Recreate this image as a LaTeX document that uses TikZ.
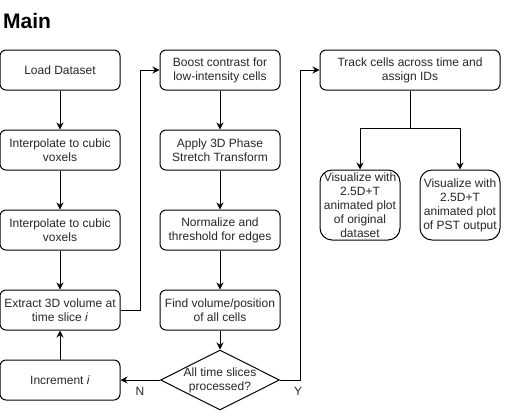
\documentclass[tikz,border=0pt]{standalone}
\usepackage{fontspec}
\setmainfont{Liberation Sans}
\usetikzlibrary{shapes.geometric,arrows.meta}
\begin{document}
\begin{tikzpicture}[x=1pt,y=-1pt,
 txt/.style={font=\fontsize{12}{14}\selectfont, text=black!85},
 box/.style={draw, line width=1pt, rounded corners=6pt, minimum width=120pt, minimum height=40pt, align=center, inner sep=0pt, txt},
 vbox/.style={box, rounded corners=12pt, minimum width=80pt, minimum height=70pt},
 arr/.style={-{Stealth[length=7pt,width=7pt]}, line width=1pt},
 ln/.style={line width=1pt}]
\useasboundingbox (0,0) rectangle (513,418);
\node[anchor=base west, font=\bfseries\fontsize{21}{24}\selectfont, inner sep=0pt] (title) at (3,28) {Main};
% left column
\node[box] (load) at (60,70) {Load Dataset};
\node[box] (interp1) at (60,150) {Interpolate to cubic\\voxels};
\node[box] (interp2) at (60,230) {Interpolate to cubic\\voxels};
\node[box] (extract) at (60,310) {Extract 3D volume at\\time slice \textit{i}};
\node[box] (inc) at (60,380) {Increment \textit{i}};
% middle column
\node[box] (boost) at (220,70) {Boost contrast for\\low-intensity cells};
\node[box] (pst) at (220,150) {Apply 3D Phase\\Stretch Transform};
\node[box] (norm) at (220,230) {Normalize and\\threshold for edges};
\node[box] (find) at (220,310) {Find volume/position\\of all cells};
\node[draw, ln, diamond, minimum width=119pt, minimum height=60pt, inner sep=0pt] (dec) at (220,380) {};
\node[txt, align=center, inner sep=0pt] (dectext) at (dec.center) {All time slices\\processed?};
% right column
\node[box, minimum width=180pt] (track) at (410,70) {Track cells across time and\\assign IDs};
\node[vbox] (vis1) at (360,205) {Visualize with\\2.5D+T\\animated plot\\of original\\dataset};
\node[vbox] (vis2) at (460,205) {Visualize with\\2.5D+T\\animated plot\\of PST output};
% labels
\node[txt] (nlab) at (140,391) {N};
\node[txt] (ylab) at (298,391) {Y};
% connectors
\draw[arr] (load) -- (interp1);
\draw[arr] (interp1) -- (interp2);
\draw[arr] (interp2) -- (extract);
\draw[arr] (extract.east) -- ++(20,0) |- (boost.west);
\draw[arr] (boost) -- (pst);
\draw[arr] (pst) -- (norm);
\draw[arr] (norm) -- (find);
\draw[arr] (find) -- (dec.north);
\draw[arr] (dec.west) -- (inc.east);
\draw[arr] (inc) -- (extract);
\draw[arr] (dec.east) -- ++(20,0) |- (track.west);
\draw[ln] (track.south) -- ++(0,38) coordinate (split);
\draw[arr] (split) -| (vis1.north);
\draw[arr] (split) -| (vis2.north);
\end{tikzpicture}
\end{document}
